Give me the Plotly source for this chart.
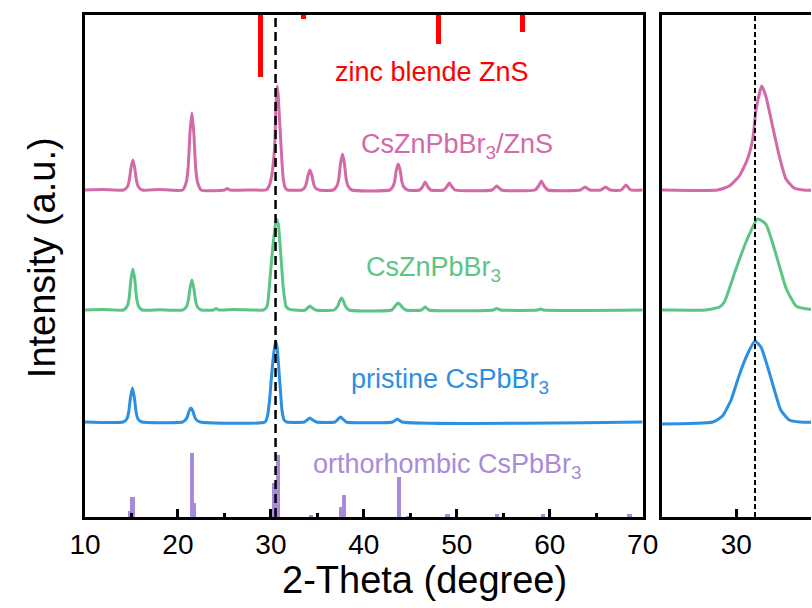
import plotly.graph_objects as go

# ---------------- data (intensity relative to each pattern's baseline) ----------------
pink_x = [10.0, 12.0, 14.15, 14.55, 14.75, 14.95, 15.15, 15.35, 15.55, 15.75, 16.15, 18.0,
          20.5, 20.9, 21.1, 21.3, 21.5, 21.7, 21.9, 22.1, 22.5, 25.0, 25.3, 25.6, 28.0,
          29.5, 29.81, 30.08, 30.30, 30.44, 30.53, 30.68, 30.79, 30.97, 31.15, 31.33, 31.55, 31.8,
          33.3, 33.6, 33.8, 34.0, 34.2, 34.4, 34.6, 34.8, 35.2,
          36.7, 37.1, 37.3, 37.5, 37.7, 37.9, 38.1, 38.3, 38.7,
          42.8, 43.1, 43.3, 43.5, 43.7, 43.9, 44.1, 44.3, 44.7,
          46.0, 46.3, 46.6, 46.9, 47.2, 48.6, 48.9, 49.2, 49.5, 49.8,
          53.8, 54.3, 54.8, 58.4, 58.8, 59.1, 59.4, 59.8,
          63.3, 63.8, 64.3, 65.5, 66.0, 66.5, 67.7, 68.2, 68.7, 70.0]
pink_y = [0, 0.5, 0, 3, 9, 22, 30, 22, 9, 3, 0, 0.5,
          0, 8, 23, 58, 77, 58, 23, 8, 0, 0, 1.5, 0, 0,
          0, 4, 14, 31, 51, 81, 104, 94, 64, 34, 11, 2, 0,
          0, 2, 6, 15, 20, 15, 6, 2, 0,
          0, 4, 11, 27, 36, 27, 11, 4, 0,
          0, 3, 8, 20, 26, 20, 8, 3, 0,
          0, 3, 8, 3, 0, 0, 3, 7, 3, 0,
          0, 4, 0, 0, 4, 9, 4, 0,
          0, 3, 0, 0, 3, 0, 0, 5, 0, 0]

green_x = [10.0, 12.0, 14.15, 14.55, 14.75, 14.95, 15.15, 15.35, 15.55, 15.75, 16.15, 18.0,
           20.5, 20.9, 21.1, 21.3, 21.5, 21.7, 21.9, 22.1, 22.5, 23.8, 24.1, 24.4, 26.0, 28.0,
           29.19, 29.55, 29.68, 29.99, 30.26, 30.57, 30.79, 31.06, 31.33, 31.51, 31.6, 31.9, 32.5,
           33.7, 34.0, 34.2, 34.4, 34.8, 36.8, 37.2, 37.4, 37.6, 37.8, 38.0, 38.4,
           43.0, 43.3, 43.5, 43.7, 43.9, 44.1, 44.5, 46.2, 46.6, 47.0,
           53.9, 54.3, 54.7, 58.7, 59.0, 59.3, 70.0]
green_y = [0, 0.5, 0, 4, 12, 31, 41, 31, 12, 4, 0, 0.3,
           0, 3, 9, 22, 30, 22, 9, 3, 0, 0, 1.5, 0, 0.5, 0,
           0, 3, 8, 41, 68, 91, 86, 56, 22, 9, 4, 1, 0,
           0, 2.5, 4, 2.5, 0, 0, 4, 9, 12, 9, 4, 0,
           0, 3, 5.5, 7, 5.5, 3, 0, 0, 3, 0,
           0, 1.5, 0, 0, 1, 0, 0]

blue_x = [10.0, 14.1, 14.5, 14.7, 14.9, 15.1, 15.3, 15.5, 15.7, 16.1,
          20.5, 20.8, 21.0, 21.2, 21.4, 21.6, 21.8, 22.0, 22.4,
          29.37, 29.63, 29.86, 30.08, 30.30, 30.50, 30.66, 30.84, 31.02, 31.19, 31.42, 31.7,
          33.6, 33.9, 34.2, 34.5, 34.9, 36.9, 37.2, 37.5, 37.8, 38.1,
          43.1, 43.6, 44.1, 70.0]
blue_y = [0, 0, 3, 10, 25, 34, 25, 10, 3, 0,
          0, 2, 5, 11, 14, 11, 5, 2, 0,
          0, 6, 22, 47, 68, 81, 75, 55, 32, 12, 2, 0,
          0, 2, 4, 2, 0, 0, 2.5, 5, 2.5, 0,
          0, 3, 0, 0]

# reference patterns (stick heights)
zns_pos = [28.9, 33.5, 48.0, 57.1]
zns_int = [62, 4, 29, 17]
ortho_pos = [14.9, 15.1, 21.5, 21.75, 30.35, 30.75, 34.3, 37.55, 37.85, 43.8, 44.8,
             49.0, 54.3, 59.3, 68.6]
ortho_int = [6, 20, 64, 14, 34, 62, 2, 10, 22, 40, 1, 3, 3, 3, 3]

ref_line = 30.5

series = [
    ("CsZnPbBr<sub>3</sub>/ZnS", pink_x, pink_y, 327, "#d26aa7"),
    ("CsZnPbBr<sub>3</sub>", green_x, green_y, 207, "#5cc585"),
    ("pristine CsPbBr<sub>3</sub>", blue_x, blue_y, 95, "#2b90e2"),
]

YMAX = 502
FONT = "Liberation Sans, Arial, sans-serif"
W, H = 827, 608
SX = W / 812.0
ML, MT, MB = 83 * SX, 15, 91

fig = go.Figure()

# sticks
fig.add_trace(go.Bar(x=zns_pos, y=[-v for v in zns_int], base=YMAX, width=0.5,
                     marker=dict(color="#ff0000", line=dict(width=0)),
                     xaxis="x", yaxis="y", showlegend=False))
fig.add_trace(go.Bar(x=ortho_pos, y=ortho_int, base=0, width=0.48,
                     marker=dict(color="#a98ad9", line=dict(width=0)),
                     xaxis="x", yaxis="y", showlegend=False))

for name, xs, ys, off, col in series:
    yy = [v + off for v in ys]
    fig.add_trace(go.Scatter(x=xs, y=yy, mode="lines", line=dict(color=col, width=3, shape="spline", smoothing=0.5),
                             xaxis="x", yaxis="y", showlegend=False))
    fig.add_trace(go.Scatter(x=xs, y=yy, mode="lines", line=dict(color=col, width=3, shape="spline", smoothing=0.5),
                             xaxis="x2", yaxis="y2", showlegend=False))

# reference dashed lines
fig.add_trace(go.Scatter(x=[ref_line, ref_line], y=[0, YMAX], mode="lines",
                         line=dict(color="black", width=2.5, dash="9px,5px"),
                         xaxis="x", yaxis="y", showlegend=False))
fig.add_trace(go.Scatter(x=[ref_line, ref_line], y=[0, YMAX], mode="lines",
                         line=dict(color="black", width=2, dash="5px,3px"),
                         xaxis="x2", yaxis="y2", showlegend=False))

PW = W - ML
d1_end = (643 * SX - ML) / PW
d2_start = (662 * SX - ML) / PW

axis_common = dict(showline=True, linecolor="black", linewidth=3, showgrid=False, zeroline=False)

fig.update_layout(
    width=W, height=H, autosize=False,
    margin=dict(l=ML, r=0, t=MT, b=MB),
    paper_bgcolor="white", plot_bgcolor="white",
    font=dict(family=FONT, color="black"),
    bargap=0,
    xaxis=dict(domain=[0, d1_end], range=[10, 70], tickmode="array",
               tickvals=[10, 20, 30, 40, 50, 60, 70], ticks="inside", ticklen=8, tickwidth=2.5,
               tickcolor="black", mirror=True,
               minor=dict(tickvals=[15, 25, 35, 45, 55, 65], ticks="inside", ticklen=4, tickwidth=2.5,
                          tickcolor="black"),
               tickfont=dict(size=28, family=FONT), anchor="y", **axis_common),
    yaxis=dict(domain=[0, 1], range=[0, YMAX], showticklabels=False, ticks="", mirror=True,
               anchor="x", **axis_common),
    xaxis2=dict(domain=[d2_start, 1], range=[28, 32.0], tickmode="array", tickvals=[30],
                ticks="inside", ticklen=8, tickwidth=2.5, tickcolor="black", mirror=True,
                tickfont=dict(size=28, family=FONT), anchor="y2", **axis_common),
    yaxis2=dict(domain=[0, 1], range=[0, YMAX], showticklabels=False, ticks="", mirror=False,
                anchor="x2", **axis_common),
)

annots = [
    dict(text="zinc blende ZnS", x=47.3, y=445, color="#ff0000"),
    dict(text="CsZnPbBr<sub>3</sub>/ZnS", x=50.0, y=371, color="#d26aa7"),
    dict(text="CsZnPbBr<sub>3</sub>", x=47.5, y=248, color="#5cc585"),
    dict(text="pristine CsPbBr<sub>3</sub>", x=49.3, y=136, color="#2b90e2"),
    dict(text="orthorhombic CsPbBr<sub>3</sub>", x=49.0, y=51, color="#a98ad9"),
]
for a in annots:
    fig.add_annotation(text=a["text"], x=a["x"], y=a["y"], xref="x", yref="y",
                       showarrow=False, xanchor="center", yanchor="middle",
                       font=dict(size=27, color=a["color"], family=FONT))

PH = H - MT - MB
fig.add_annotation(text="2-Theta (degree)", x=(424 * SX - ML) / PW, y=(517 - 580) / PH,
                   xref="paper", yref="paper", showarrow=False, xanchor="center", yanchor="middle",
                   font=dict(size=38, family=FONT, color="black"))
fig.add_annotation(text="Intensity (a.u.)", x=(40 * SX - ML) / PW, y=(517 - 258) / PH,
                   xref="paper", yref="paper", showarrow=False, xanchor="center", yanchor="middle",
                   textangle=-90, font=dict(size=38, family=FONT, color="black"))

fig.write_html("out.html", config={"responsive": False})
